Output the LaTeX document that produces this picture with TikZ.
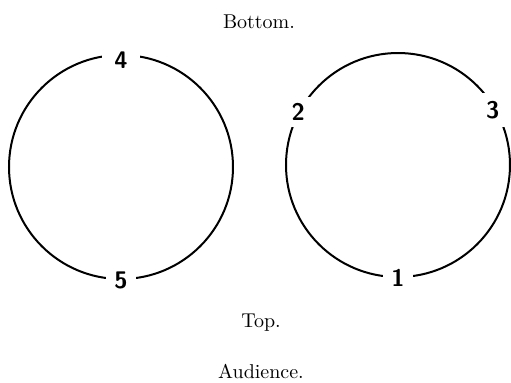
\documentclass[tikz,border=0pt]{standalone}
\usetikzlibrary{positioning}
\begin{document}
\begin{tikzpicture}[
        x=0.5pt, y=-0.5pt,
        ring/.style = {circle, draw, line width=1pt, minimum size=112pt, inner sep=0pt},
        seat/.style = {fill=white, font=\sffamily\bfseries\large, inner xsep=4pt, inner ysep=1pt},
        caption/.style = {font=\normalsize}
    ]
    \useasboundingbox (0,0) rectangle (511,382);

    % Captions
    \node [caption] (bottomlbl) at (259,22) {Bottom.};
    \node [caption] (toplbl) at (261,323) {Top.};
    \node [caption, below=9pt of toplbl] (audiencelbl) {Audience.};

    % Rings
    \node [ring] (leftring) at (121,167) {};
    \node [ring] (rightring) at (398,165) {};

    % Seats
    \node [seat, inner xsep=6pt, yshift=-3pt] (seatfour) at (leftring.north) {4};
    \node [seat] (seatfive) at (leftring.south) {5};
    \node [seat] (seatone) at (rightring.south) {1};
    \node [seat, inner ysep=3pt] (seattwo) at (rightring.152) {2};
    \node [seat, inner ysep=4pt, xshift=-2pt] (seatthree) at (rightring.29) {3};

\end{tikzpicture}
\end{document}
